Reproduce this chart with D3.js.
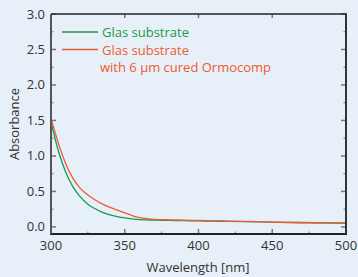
<!DOCTYPE html>
<html><head><meta charset="utf-8">
<script src="https://cdn.jsdelivr.net/npm/d3@7"></script>
<style>
html,body{margin:0;padding:0;background:#e7eff8;}
svg{display:block;font-family:"Open Sans",sans-serif;}
</style></head><body>
<svg id="c" width="358" height="277"></svg>
<script>
const wavelengths = [300,305,310,315,320,325,330,335,340,345,350,355,360,365,370,380,390,400,410,420,440,460,480,500];
const glasValues  = [1.48,1.07,0.77,0.56,0.42,0.32,0.255,0.205,0.17,0.145,0.126,0.112,0.102,0.098,0.095,0.091,0.088,0.085,0.081,0.078,0.071,0.065,0.059,0.055];
const ormoValues  = [1.53,1.18,0.89,0.68,0.54,0.45,0.38,0.32,0.275,0.235,0.197,0.16,0.132,0.116,0.106,0.10,0.095,0.09,0.086,0.082,0.074,0.062,0.055,0.05];
const xTicks = [300,350,400,450,500];
const yTicks = [0,0.5,1,1.5,2,2.5,3];
const seriesNames = ["Glas substrate","Glas substrate","with 6 µm cured Ormocomp"];

const svg = d3.select("#c");
const m = {l:51,r:346,t:14,b:234};
const x = d3.scaleLinear().domain([300,500]).range([m.l,m.r]);
const y = d3.scaleLinear().domain([-0.1,3.0]).range([m.b,m.t]);
const green = "#1a9a4c", red = "#f05a32", txt = "#333";

// curves
const line = d3.line().x(d=>x(d[0])).y(d=>y(d[1])).curve(d3.curveMonotoneX);
svg.append("path").datum(wavelengths.map((w,i)=>[w,glasValues[i]]))
  .attr("d",line).attr("fill","none").attr("stroke",green).attr("stroke-width",1.3);
svg.append("path").datum(wavelengths.map((w,i)=>[w,ormoValues[i]]))
  .attr("d",line).attr("fill","none").attr("stroke",red).attr("stroke-width",1.3);

// axes
const minorX = d3.range(325,500,50);
const minorY = d3.range(0.25,3,0.5);
const tickCol = "#777";
const g = svg.append("g");
xTicks.forEach(v=>{
  g.append("line").attr("x1",x(v)).attr("x2",x(v)).attr("y1",m.b).attr("y2",m.b-5).attr("stroke",tickCol).attr("stroke-width",1.5);
  g.append("line").attr("x1",x(v)).attr("x2",x(v)).attr("y1",m.t).attr("y2",m.t+4).attr("stroke",tickCol).attr("stroke-width",1.5);
  svg.append("text").attr("x",x(v)).attr("y",250).attr("text-anchor","middle").attr("font-size",13).attr("fill",txt).text(v);
});
minorX.forEach(v=>{
  g.append("line").attr("x1",x(v)).attr("x2",x(v)).attr("y1",m.b).attr("y2",m.b-2.5).attr("stroke",tickCol).attr("stroke-width",1);
});
yTicks.forEach(v=>{
  g.append("line").attr("x1",m.l).attr("x2",m.l+5).attr("y1",y(v)).attr("y2",y(v)).attr("stroke",tickCol).attr("stroke-width",1.5);
  g.append("line").attr("x1",m.r).attr("x2",m.r-5).attr("y1",y(v)).attr("y2",y(v)).attr("stroke",tickCol).attr("stroke-width",1.5);
  svg.append("text").attr("x",45).attr("y",y(v)+4.5).attr("text-anchor","end").attr("font-size",13).attr("fill",txt).text(d3.format(".1f")(v));
});
minorY.forEach(v=>{
  g.append("line").attr("x1",m.l).attr("x2",m.l+2.5).attr("y1",y(v)).attr("y2",y(v)).attr("stroke",tickCol).attr("stroke-width",1);
  g.append("line").attr("x1",m.r).attr("x2",m.r-2.5).attr("y1",y(v)).attr("y2",y(v)).attr("stroke",tickCol).attr("stroke-width",1);
});
// frame
svg.append("line").attr("x1",m.l).attr("x2",m.r).attr("y1",m.t).attr("y2",m.t).attr("stroke","#222").attr("stroke-width",1.5);
svg.append("line").attr("x1",m.l-1).attr("x2",m.r+1).attr("y1",m.b).attr("y2",m.b).attr("stroke","#222").attr("stroke-width",2);
svg.append("line").attr("x1",m.l).attr("x2",m.l).attr("y1",m.t).attr("y2",m.b).attr("stroke","#555").attr("stroke-width",2);
svg.append("line").attr("x1",m.r).attr("x2",m.r).attr("y1",m.t-0.75).attr("y2",m.b).attr("stroke","#333").attr("stroke-width",2);

// axis titles
svg.append("text").attr("x",198).attr("y",272).attr("text-anchor","middle").attr("font-size",13).attr("fill",txt).text("Wavelength [nm]");
svg.append("text").attr("transform","translate(19,124) rotate(-90)").attr("text-anchor","middle").attr("font-size",13).attr("fill",txt).text("Absorbance");

// legend
svg.append("line").attr("x1",62).attr("x2",98).attr("y1",32).attr("y2",32).attr("stroke",green).attr("stroke-width",1.3);
svg.append("text").attr("x",102).attr("y",37).attr("font-size",13).attr("fill",green).text(seriesNames[0]);
svg.append("line").attr("x1",62).attr("x2",98).attr("y1",49.5).attr("y2",49.5).attr("stroke",red).attr("stroke-width",1.3);
svg.append("text").attr("x",102).attr("y",54.5).attr("font-size",13).attr("fill",red).text(seriesNames[1]);
svg.append("text").attr("x",100).attr("y",72).attr("font-size",13).attr("fill",red).text(seriesNames[2]);
</script></body></html>
